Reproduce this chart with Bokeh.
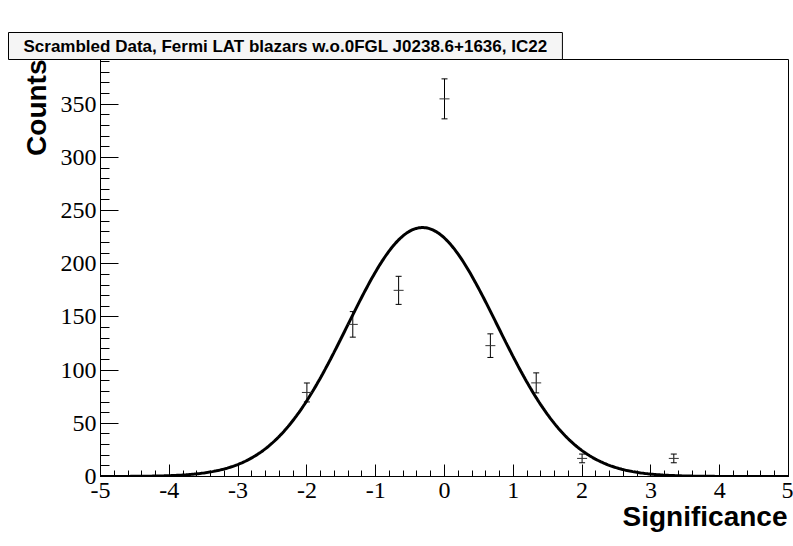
import numpy as np
from bokeh.plotting import figure
from bokeh.models import (Range1d, SingleIntervalTicker, Whisker, ColumnDataSource,
                          TeeHead, CustomJSTickFormatter, Title, LinearAxis, FixedTicker)
from bokeh.embed import file_html
from bokeh.resources import INLINE

# ---- data ----
bin_centers = [-2.0, -1.333, -0.667, 0.0, 0.667, 1.333, 2.0, 3.333]
counts = [79, 143, 175, 355, 123, 88, 17, 17]
errors = [8.9, 12.0, 13.2, 18.8, 11.1, 9.4, 4.1, 4.1]

# Gaussian fit parameters
fit_amplitude = 234.0
fit_mean = -0.32
fit_sigma = 1.09

x_range = (-5, 5)
y_range = (0, 392)

title_text = "Scrambled Data, Fermi LAT blazars w.o.0FGL J0238.6+1636, IC22"
x_title = "Significance"
y_title = "Counts"

W, H = 793, 546
p = figure(width=W, height=H, x_range=Range1d(*x_range), y_range=Range1d(*y_range),
           output_backend="svg", toolbar_location=None,
           min_border_left=100, min_border_right=5, min_border_top=59, min_border_bottom=70)
p.background_fill_color = "white"
p.border_fill_color = "white"
p.outline_line_color = "black"
p.outline_line_width = 1
p.xgrid.visible = False
p.ygrid.visible = False

# main axes (taken before any spacer is added)
xa = p.below[0]
ya = p.left[0]


def spacer_axis(size):
    # an empty axis (no ticks, no labels) used only to reserve space in a side panel
    return LinearAxis(ticker=FixedTicker(ticks=[]), major_tick_out=size, major_tick_in=0,
                      minor_tick_out=0, minor_tick_in=0, major_label_standoff=0,
                      axis_line_alpha=0)


fmt = CustomJSTickFormatter(code="return String(tick);")
xa.ticker = SingleIntervalTicker(interval=1, num_minor_ticks=5)
xa.major_tick_in = 12
xa.major_tick_out = 0
xa.minor_tick_in = 6
xa.minor_tick_out = 0
xa.major_label_standoff = 6
ya.ticker = SingleIntervalTicker(interval=50, num_minor_ticks=5)
ya.major_tick_in = 18
ya.major_tick_out = 0
ya.minor_tick_in = 9
ya.minor_tick_out = 0
ya.major_label_standoff = 4
for ax in (xa, ya):
    ax.formatter = fmt
    ax.axis_line_color = "black"
    ax.major_tick_line_color = "black"
    ax.minor_tick_line_color = "black"
    ax.major_label_text_font = "Liberation Serif"
    ax.major_label_text_font_size = "24px"
    ax.major_label_text_color = "black"

# keep the title box away from the frame, like the reference
p.add_layout(spacer_axis(27), "above")

# title box
p.title.text = title_text
p.title.align = "left"
p.title.vertical_align = "bottom"
p.title.offset = -92
p.title.standoff = 0
p.title.text_font = "Liberation Sans"
p.title.text_font_style = "bold"
p.title.text_font_size = "17px"
p.title.text_color = "black"
p.title.background_fill_color = "#f5f5f5"
p.title.border_line_color = "black"
p.title.border_line_width = 1
p.title.padding = (15, 4)

# axis titles, right/top aligned as in the reference
axis_title_style = dict(text_font="Liberation Sans", text_font_style="bold",
                        text_font_size="28px", text_color="black")
p.add_layout(spacer_axis(8), "below")
p.add_layout(Title(text=x_title, align="right", vertical_align="top", offset=1, standoff=0,
                   **axis_title_style), "below")
p.add_layout(Title(text=y_title, align="right", vertical_align="bottom", offset=0, standoff=12,
                   **axis_title_style), "left")

# fit curve
xs = np.linspace(x_range[0], x_range[1], 500)
ys = fit_amplitude * np.exp(-0.5 * ((xs - fit_mean) / fit_sigma) ** 2)
p.line(xs, ys, line_color="black", line_width=3)

# data points with errors
lower = [c - e for c, e in zip(counts, errors)]
upper = [c + e for c, e in zip(counts, errors)]
src = ColumnDataSource(dict(x=bin_centers, y=counts, lower=lower, upper=upper))
w = Whisker(source=src, base="x", lower="lower", upper="upper", dimension="height",
            line_color="black", line_width=1,
            upper_head=TeeHead(size=6, line_color="black", line_width=1),
            lower_head=TeeHead(size=6, line_color="black", line_width=1))
p.add_layout(w)
p.scatter("x", "y", source=src, marker="dash", size=10, line_color="#333333", line_width=1)

open("out.html", "w").write(file_html(p, INLINE))
